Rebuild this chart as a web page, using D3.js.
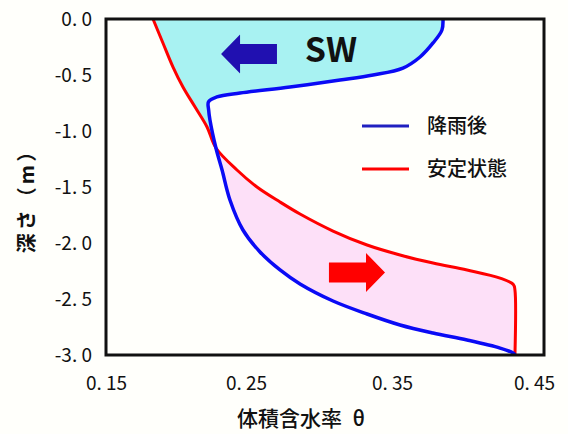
<!DOCTYPE html>
<html>
<head>
<meta charset="utf-8">
<script src="https://cdn.jsdelivr.net/npm/d3@7"></script>
<style>
  html, body { margin: 0; padding: 0; background: #fffffb; }
  svg { display: block; }
  text { font-family: "Noto Sans CJK JP", "Noto Sans", sans-serif; fill: #111; }
</style>
</head>
<body>
<svg id="chart" width="568" height="434"></svg>
<script>
// Volumetric water content θ versus depth (m)
const xTicks = [0.15, 0.25, 0.35, 0.45];
const yTicks = [0.0, -0.5, -1.0, -1.5, -2.0, -2.5, -3.0];
const xTickLabels = ["0. 15", "0. 25", "0. 35", "0. 45"];
const yTickLabels = ["0. 0", "-0. 5", "-1. 0", "-1. 5", "-2. 0", "-2. 5", "-3. 0"];

// depth where the two profiles cross
const crossDepth = -1.152;

// 降雨後 (after rainfall): [θ, depth]
const afterRain = [
  [0.3808, 0.0], [0.3801, -0.098], [0.3740, -0.214], [0.3651, -0.339],
  [0.3534, -0.438], [0.3329, -0.500], [0.3103, -0.545], [0.2760, -0.607],
  [0.2418, -0.661], [0.2260, -0.696], [0.2202, -0.740], [0.2203, -0.812],
  [0.2212, -0.902], [0.2253, -1.152], [0.2295, -1.348], [0.2349, -1.616],
  [0.2438, -1.884], [0.2555, -2.080], [0.2692, -2.241], [0.2829, -2.366],
  [0.3055, -2.518], [0.3288, -2.634], [0.3514, -2.732], [0.3740, -2.804],
  [0.3973, -2.866], [0.4199, -2.938], [0.4288, -2.982], [0.4301, -3.0]
];

// 安定状態 (steady state): [θ, depth]
const steady = [
  [0.1822, 0.0], [0.1890, -0.214], [0.1959, -0.429], [0.2027, -0.607],
  [0.2110, -0.786], [0.2192, -0.964], [0.2253, -1.152], [0.2397, -1.348],
  [0.2534, -1.500], [0.2692, -1.634], [0.2829, -1.741], [0.3055, -1.893],
  [0.3288, -2.018], [0.3514, -2.107], [0.3740, -2.179], [0.3973, -2.241],
  [0.4199, -2.313], [0.4290, -2.370], [0.4301, -2.420], [0.4301, -3.0]
];

const legendNames = ["降雨後", "安定状態"];
const swLabel = "SW";
// arrow annotations: [θ, depth] of the tail and of the tip
const drainArrow = [[0.2671, -0.3125], [0.2288, -0.3125]];
const wetArrow = [[0.3027, -2.263], [0.3411, -2.263]];

const svg = d3.select("#chart");
const plot = { left: 106, right: 544, top: 19, bottom: 355 };

const x = d3.scaleLinear().domain([0.15, 0.45]).range([plot.left, plot.right]);
const y = d3.scaleLinear().domain([0, -3]).range([plot.top, plot.bottom]);

const line = d3.line()
  .x(d => x(d[0])).y(d => y(d[1]))
  .curve(d3.curveCatmullRom.alpha(0.5));

// shaded regions between the profiles
const upperFill = steady.filter(d => d[1] >= crossDepth)
  .concat(afterRain.filter(d => d[1] >= crossDepth).reverse());
const lowerFill = afterRain.filter(d => d[1] <= crossDepth)
  .concat(steady.filter(d => d[1] <= crossDepth).reverse());

svg.append("path").attr("d", line(upperFill) + "Z")
  .attr("fill", "#a8f2f2").attr("stroke", "none");
svg.append("path").attr("d", line(lowerFill) + "Z")
  .attr("fill", "#fde0f8").attr("stroke", "none");

// profiles
svg.append("path").attr("d", line(steady))
  .attr("fill", "none").attr("stroke", "#ff0000").attr("stroke-width", 3)
  .attr("stroke-linejoin", "round");
svg.append("path").attr("d", line(afterRain))
  .attr("fill", "none").attr("stroke", "#0a0af5").attr("stroke-width", 3.5)
  .attr("stroke-linejoin", "round");

// plot frame
svg.append("rect")
  .attr("x", plot.left).attr("y", plot.top)
  .attr("width", plot.right - plot.left).attr("height", plot.bottom - plot.top)
  .attr("fill", "none").attr("stroke", "#111").attr("stroke-width", 3);

// axes (labels only, no tick marks)
const xAxis = d3.axisBottom(x).tickValues(xTicks)
  .tickFormat((d, i) => xTickLabels[i]).tickSize(0).tickPadding(0);
const gx = svg.append("g").attr("transform", `translate(0,${plot.bottom + 21})`).call(xAxis);
gx.select(".domain").remove();
gx.selectAll("text").attr("font-size", 19).attr("fill", "#111")
  .attr("font-family", "'Liberation Sans', sans-serif")
  .attr("dx", (d, i) => [0, -6, -6, -10][i]);

const yAxis = d3.axisLeft(y).tickValues(yTicks)
  .tickFormat((d, i) => yTickLabels[i]).tickSize(0).tickPadding(0);
const gy = svg.append("g").attr("transform", `translate(${plot.left - 14},0)`).call(yAxis);
gy.select(".domain").remove();
gy.selectAll("text").attr("font-size", 19).attr("fill", "#111")
  .attr("font-family", "'Liberation Sans', sans-serif");

// axis titles
svg.append("text").attr("x", 301).attr("y", 426)
  .attr("text-anchor", "middle").attr("font-size", 21).attr("font-weight", 500)
  .text("体積含水率\u2002θ");
svg.append("text")
  .attr("transform", "translate(34,196) rotate(-90)")
  .attr("text-anchor", "middle").attr("font-size", 20).attr("font-weight", 700)
  .attr("letter-spacing", 3)
  .text("深さ（m）");

// SW label
svg.append("text").attr("x", 331).attr("y", 62)
  .attr("text-anchor", "middle").attr("font-size", 34).attr("font-weight", 700)
  .attr("font-family", "'Liberation Sans', Arial, sans-serif")
  .text(swLabel);

// block arrows built from data anchors
function blockArrow(tail, tip, color) {
  const tx = x(tail[0]);
  const px = x(tip[0]), cy = y(tip[1]);
  const dir = Math.sign(px - tx);
  const headLen = 19, shaftHalf = 10, headHalf = 19.5;
  const hx = px - dir * headLen;
  const pts = [
    [tx, cy - shaftHalf], [hx, cy - shaftHalf], [hx, cy - headHalf],
    [px, cy], [hx, cy + headHalf], [hx, cy + shaftHalf], [tx, cy + shaftHalf]
  ];
  svg.append("path").attr("d", d3.line()(pts) + "Z").attr("fill", color);
}
blockArrow(drainArrow[0], drainArrow[1], "#2010b0");
blockArrow(wetArrow[0], wetArrow[1], "#ff0000");

// legend
const legendColors = ["#2020c0", "#ff0000"];
const legendY = [126, 169];
legendNames.forEach((name, i) => {
  svg.append("line")
    .attr("x1", 362).attr("x2", 409).attr("y1", legendY[i]).attr("y2", legendY[i])
    .attr("stroke", legendColors[i]).attr("stroke-width", 3);
  svg.append("text").attr("x", 427).attr("y", legendY[i] + 7)
    .attr("font-size", 20).attr("font-weight", 500).text(name);
});
</script>
</body>
</html>
